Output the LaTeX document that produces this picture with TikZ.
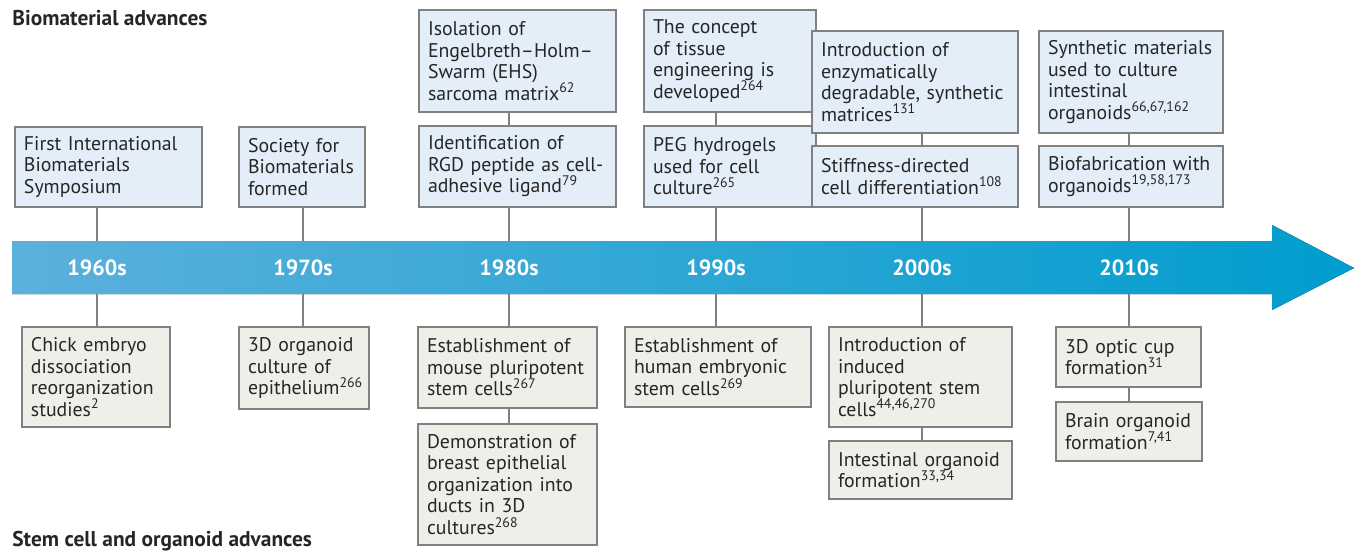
\documentclass[tikz,border=0pt]{standalone}
\usepackage{fontspec}
\setmainfont{PT Sans}
\usepackage{tikz}
\usetikzlibrary{positioning}

\definecolor{boxline}{RGB}{128,128,128}
\definecolor{upfill}{RGB}{227,238,249}
\definecolor{lowfill}{RGB}{239,239,234}
\definecolor{arrowleft}{RGB}{92,176,220}
\definecolor{arrowright}{RGB}{0,157,206}

\begin{document}
\begin{tikzpicture}[
        x=0.5pt, y=-0.5pt,
        upbox/.style={rectangle, anchor=north west, draw=boxline, fill=upfill, line width=0.7pt, align=left, inner xsep=4.5pt, inner ysep=0pt, outer sep=0pt, font=\fontsize{9.9}{10.75}\selectfont, text=black!85},
        lowbox/.style={upbox, fill=lowfill},
        yearlabel/.style={text=white, font=\fontsize{11}{13}\selectfont\bfseries},
        heading/.style={anchor=west, inner sep=0pt, font=\fontsize{10.7}{12}\selectfont\bfseries, text=black!85},
        link/.style={draw=boxline, line width=0.7pt},
]
        \useasboundingbox (0,0) rectangle (1362,557);

        % timeline arrow
        \fill[left color=arrowleft, right color=arrowright] (12,241) -- (1272,241) -- (1272,225) -- (1354,268) -- (1272,310) -- (1272,294) -- (12,294) -- cycle;

        \node[yearlabel] (y60) at (97,268) {1960s};
        \node[yearlabel] (y70) at (303,268) {1970s};
        \node[yearlabel] (y80) at (509,268) {1980s};
        \node[yearlabel] (y90) at (716,268) {1990s};
        \node[yearlabel] (y00) at (922,268) {2000s};
        \node[yearlabel] (y10) at (1129,268) {2010s};

        \coordinate (top60) at (97,241);  \coordinate (bot60) at (97,294);
        \coordinate (top70) at (303,241); \coordinate (bot70) at (303,294);
        \coordinate (top80) at (509,241); \coordinate (bot80) at (509,294);
        \coordinate (top90) at (716,241); \coordinate (bot90) at (716,294);
        \coordinate (top00) at (922,241); \coordinate (bot00) at (922,294);
        \coordinate (top10) at (1129,241); \coordinate (bot10) at (1129,294);

        \node[heading] (biotitle) at (12,18) {Biomaterial advances};
        \node[heading] (stemtitle) at (12,541) {Stem cell and organoid advances};

        % biomaterial advances
        \node[upbox, text width=84.5pt, minimum height=40pt] (u60) at (15,127) {First International\\Biomaterials\\Symposium};
        \node[upbox, text width=54pt, minimum height=40pt] (u70) at (239,127) {Society for\\Biomaterials\\formed};
        \node[upbox, text width=89.5pt, minimum height=51pt] (u80a) at (419,10) {Isolation of\\Engelbreth--Holm--\\Swarm (EHS)\\sarcoma matrix\textsuperscript{62}};
        \node[upbox, text width=89.5pt, minimum height=40.5pt] (u80b) at (419,126) {Identification of\\RGD peptide as cell-\\adhesive ligand\textsuperscript{79}};
        \node[upbox, text width=77pt, minimum height=51pt] (u90a) at (644,10) {The concept\\of tissue\\engineering is\\developed\textsuperscript{264}};
        \node[upbox, text width=77pt, minimum height=40.5pt] (u90b) at (644,126) {PEG hydrogels\\used for cell\\culture\textsuperscript{265}};
        \node[upbox, text width=94pt, minimum height=51pt] (u00a) at (812,31) {Introduction of\\enzymatically\\degradable, synthetic\\matrices\textsuperscript{131}};
        \node[upbox, text width=94pt, minimum height=30.5pt] (u00b) at (812,146) {Stiffness-directed\\cell differentiation\textsuperscript{108}};
        \node[upbox, text width=83pt, minimum height=51pt] (u10a) at (1039,31) {Synthetic materials\\used to culture\\intestinal\\organoids\textsuperscript{66,67,162}};
        \node[upbox, text width=83pt, minimum height=30.5pt] (u10b) at (1039,146) {Biofabrication with\\organoids\textsuperscript{19,58,173}};

        % stem cell and organoid advances
        \node[lowbox, text width=65pt, minimum height=50pt] (l60) at (22,327) {Chick embryo\\dissociation\\reorganization\\studies\textsuperscript{2}};
        \node[lowbox, text width=56pt, minimum height=41pt] (l70) at (239,327) {3D organoid\\culture of\\epithelium\textsuperscript{266}};
        \node[lowbox, text width=80.5pt, minimum height=40.5pt] (l80a) at (418,327) {Establishment of\\mouse pluripotent\\stem cells\textsuperscript{267}};
        \node[lowbox, text width=80.5pt, minimum height=60.5pt] (l80b) at (418,424) {Demonstration of\\breast epithelial\\organization into\\ducts in 3D\\cultures\textsuperscript{268}};
        \node[lowbox, text width=84pt, minimum height=40pt] (l90) at (625,327) {Establishment of\\human embryonic\\stem cells\textsuperscript{269}};
        \node[lowbox, text width=82.5pt, minimum height=50pt] (l00a) at (829,327) {Introduction of\\induced\\pluripotent stem\\cells\textsuperscript{44,46,270}};
        \node[lowbox, text width=82.5pt, minimum height=29pt] (l00b) at (829,441) {Intestinal organoid\\formation\textsuperscript{33,34}};
        \node[lowbox, text width=63.5pt, minimum height=30pt] (l10a) at (1056,327) {3D optic cup\\formation\textsuperscript{31}};
        \node[lowbox, text width=64pt, minimum height=29.5pt] (l10b) at (1056,402) {Brain organoid\\formation\textsuperscript{7,41}};

        % connectors
        \draw[link] (u60.south -| top60) -- (top60);
        \draw[link] (u70.south -| top70) -- (top70);
        \draw[link] (u80a.south -| top80) -- (u80b.north -| top80);
        \draw[link] (u80b.south -| top80) -- (top80);
        \draw[link] (u90a.south -| top90) -- (u90b.north -| top90);
        \draw[link] (u90b.south -| top90) -- (top90);
        \draw[link] (u00a.south -| top00) -- (u00b.north -| top00);
        \draw[link] (u00b.south -| top00) -- (top00);
        \draw[link] (u10a.south -| top10) -- (u10b.north -| top10);
        \draw[link] (u10b.south -| top10) -- (top10);

        \draw[link] (bot60) -- (l60.north -| bot60);
        \draw[link] (bot70) -- (l70.north -| bot70);
        \draw[link] (bot80) -- (l80a.north -| bot80);
        \draw[link] (l80a.south -| bot80) -- (l80b.north -| bot80);
        \draw[link] (bot90) -- (l90.north -| bot90);
        \draw[link] (bot00) -- (l00a.north -| bot00);
        \draw[link] (l00a.south -| bot00) -- (l00b.north -| bot00);
        \draw[link] (bot10) -- (l10a.north -| bot10);
        \draw[link] (l10a.south -| bot10) -- (l10b.north -| bot10);
\end{tikzpicture}
\end{document}
